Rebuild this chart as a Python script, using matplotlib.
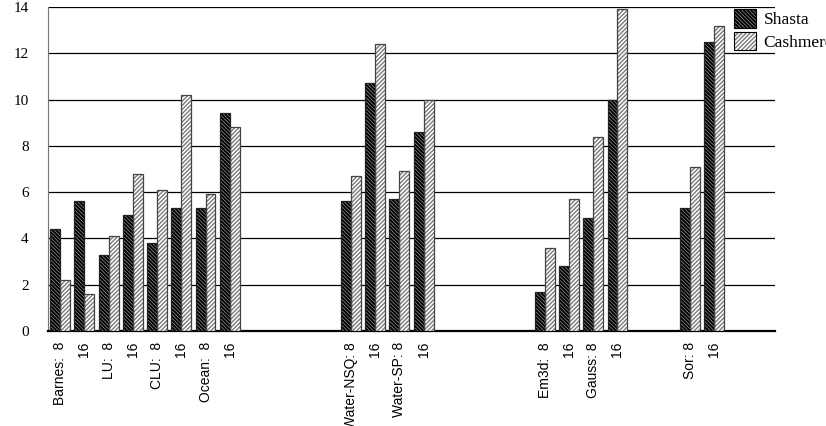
import numpy as np
import matplotlib
matplotlib.use('Agg')
import matplotlib.pyplot as plt

# ── 데이터 ───────────────────────────────────────────────
labels = ["Barnes:  8", "16", "LU:  8", "16", "CLU:  8", "16", "Ocean:  8", "16",
          "", "", "", "",
          "Water-NSQ: 8", "16", "Water-SP: 8", "16",
          "", "", "", "",
          "Em3d:  8", "16", "Gauss: 8", "16",
          "", "",
          "Sor: 8", "16",
          "", ""]
shasta = [4.4, 5.6, 3.3, 5.0, 3.8, 5.3, 5.3, 9.4,
          np.nan, np.nan, np.nan, np.nan,
          5.6, 10.7, 5.7, 8.6,
          np.nan, np.nan, np.nan, np.nan,
          1.7, 2.8, 4.9, 10.0,
          np.nan, np.nan,
          5.3, 12.5,
          np.nan, np.nan]
cashmere = [2.2, 1.6, 4.1, 6.8, 6.1, 10.2, 5.9, 8.8,
            np.nan, np.nan, np.nan, np.nan,
            6.7, 12.4, 6.9, 10.0,
            np.nan, np.nan, np.nan, np.nan,
            3.6, 5.7, 8.4, 13.9,
            np.nan, np.nan,
            7.1, 13.2,
            np.nan, np.nan]
yticks = [0, 2, 4, 6, 8, 10, 12, 14]

# ── 그림 ─────────────────────────────────────────────────
fig = plt.figure(figsize=(8.26, 4.26), dpi=100)
ax = fig.add_axes([48/826, 1-331/426, (775-48)/826, (331-7)/426])

x = np.arange(len(labels))
w = 0.41
HATCH_S = "\\" * 9
HATCH_C = "/" * 8

# 해칭 (테두리는 따로)
with plt.rc_context({'hatch.linewidth': 1.5}):
    b1 = ax.bar(x - w/2, shasta, w, color="#c0c0c0", hatch=HATCH_S,
                edgecolor="black", linewidth=0, zorder=3, label="Shasta")
with plt.rc_context({'hatch.linewidth': 1.0}):
    b2 = ax.bar(x + w/2, cashmere, w, color="white", hatch=HATCH_C,
                edgecolor="#7a7a7a", linewidth=0, zorder=3, label="Cashmere")
ax.bar(x - w/2, shasta, w, fill=False, edgecolor="#222222", linewidth=0.9, zorder=4)
ax.bar(x + w/2, cashmere, w, fill=False, edgecolor="#444444", linewidth=0.9, zorder=4)

ax.set_xlim(-0.5, len(labels) - 0.5)
ax.set_ylim(0, 14)
ax.set_yticks(yticks)
ax.set_yticklabels([str(t) for t in yticks], family="Liberation Serif", fontsize=11)
ax.yaxis.grid(True, color="black", linewidth=0.9, zorder=0)
ax.set_axisbelow(True)
ax.tick_params(axis="y", length=0, pad=14)

ax.set_xticks(x)
ax.set_xticklabels(labels, rotation=90, family="Liberation Sans", fontsize=10,
                   va="top", ha="center")
ax.tick_params(axis="x", length=0, pad=8)

for s in ["top", "right"]:
    ax.spines[s].set_visible(False)
ax.spines["left"].set_color("#777777")
ax.spines["bottom"].set_linewidth(1.6)

leg = fig.legend(handles=[b1, b2], loc="upper left",
                 bbox_to_anchor=(722/826, 1+3/426), frameon=False,
                 prop={"family": "Liberation Serif", "size": 12.5},
                 handlelength=1.25, handleheight=1.25, handletextpad=0.45,
                 labelspacing=0.2, borderpad=0.2)
for h, lw in zip(leg.legend_handles, [1.5, 1.0]):
    h.set_linewidth(0.8)
    h.set_edgecolor("black")
    h._hatch_linewidth = lw
leg.legend_handles[0]._hatch_color = (0, 0, 0, 1)
leg.legend_handles[1]._hatch_color = (0.48, 0.48, 0.48, 1)

plt.savefig("out.png", dpi=100)
plt.close()
